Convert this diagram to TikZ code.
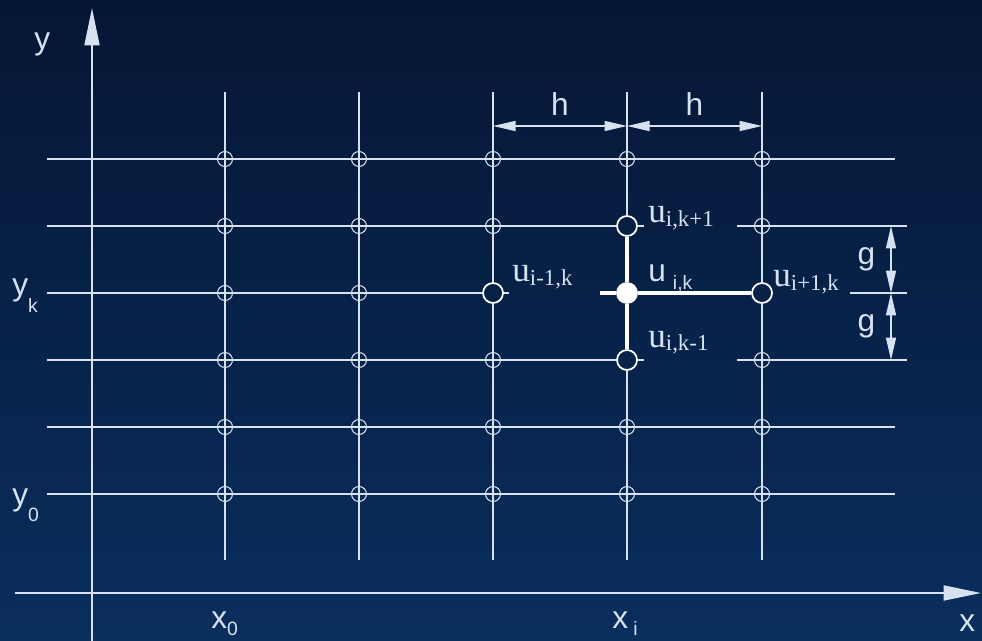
\documentclass[tikz,border=0pt]{standalone}
\usepackage{fontspec}
\setmainfont{Liberation Sans}
\newfontfamily\timesfam{Liberation Serif}
\usetikzlibrary{arrows.meta, positioning, calc}
\definecolor{bgtop}{RGB}{5,22,52}
\definecolor{bgbot}{RGB}{10,46,94}
\definecolor{gridline}{RGB}{214,226,240}

% grid value u with its index
\newcommand{\uidx}[1]{{\timesfam\fontsize{20}{20}\selectfont u}\raisebox{-2pt}{\timesfam\fontsize{13}{13}\selectfont #1}}

\begin{document}
\begin{tikzpicture}[
    x=0.02cm, y=-0.02cm,
    gline/.style={draw=gridline, line width=0.8pt},
    stencil/.style={draw=white, line width=2.8pt},
    axis/.style={draw=gridline, line width=1.1pt, -{Triangle[length=0.75cm, width=0.3cm]}},
    dim/.style={draw=gridline, line width=0.8pt, {Triangle[length=0.45cm, width=0.2cm]}-{Triangle[length=0.45cm, width=0.2cm]}},
    knot/.style={circle, draw=gridline, line width=0.6pt, minimum size=0.3cm, inner sep=0pt},
    bigknot/.style={circle, draw=white, line width=1pt, minimum size=0.4cm, inner sep=0pt},
    lab/.style={text=gridline, inner sep=0pt, font=\fontsize{18}{18}\selectfont},
]

% Background
\shade[top color=bgtop, bottom color=bgbot] (0,0) rectangle (982,641);
\useasboundingbox (0,0) rectangle (982,641);

% Grid line ends
\foreach \c/\x in {1/225, 2/359, 3/493, 4/627, 5/762} {
    \coordinate (t\c) at (\x,92);
    \coordinate (b\c) at (\x,560);
}
\foreach \r/\y/\e in {1/159/895, 2/226/907, 3/293/907, 4/360/907, 5/427/895, 6/494/895} {
    \coordinate (l\r) at (47,\y);
    \coordinate (r\r) at (\e,\y);
}

% Five-point stencil
\node[bigknot] (uN) at (t4 |- l2) {};
\node[bigknot] (uW) at (t3 |- l3) {};
\node[bigknot, fill=white] (uC) at (t4 |- l3) {};
\node[bigknot] (uE) at (t5 |- l3) {};
\node[bigknot] (uS) at (t4 |- l4) {};

% Grid knots
\foreach \c in {1,...,5} {
    \foreach \r in {1,...,6} {
        \pgfmathtruncatemacro\instencil{or(and(\c==4, and(\r>1, \r<5)), and(\r==3, \c>2))}
        \ifnum\instencil=0
            \node[knot] (k\c\r) at (t\c |- l\r) {};
        \fi
    }
}

% Grid lines
\foreach \c in {1,2} \draw[gline] (t\c) -- (b\c);
\draw[gline] (t3) -- (uW) (uW) -- (b3);
\draw[gline] (t4) -- (uN) (uS) -- (b4);
\draw[gline] (t5) -- (uE) (uE) -- (b5);
\foreach \r in {1,5,6} \draw[gline] (l\r) -- (r\r);
\coordinate (m2) at (737,226);
\coordinate (m3) at (850,293);
\coordinate (m4) at (737,360);
\draw[gline] (l2) -- (uN) (uN.east) -- ++(6,0) (m2) -- (r2);
\draw[gline] (l3) -- (uW) (uW.east) -- ++(5,0) (m3) -- (r3);
\draw[gline] (l4) -- (uS) (uS.east) -- ++(6,0) (m4) -- (r4);

% Stencil arms
\coordinate (s3) at (600,293);
\draw[stencil] (s3) -- (uC) -- (uE);
\draw[stencil] (uN) -- (uC) -- (uS);

% Step sizes
\coordinate (hy) at (0,126);
\coordinate (gx) at (891,0);
\draw[dim] (t3 |- hy) -- node[lab, above=0.2cm] (h1) {h} (t4 |- hy);
\draw[dim] (t4 |- hy) -- node[lab, above=0.2cm] (h2) {h} (t5 |- hy);
\draw[dim] (gx |- l2) -- node[lab, left=0.3cm] (g1) {g} (gx |- l3);
\draw[dim] (gx |- l3) -- node[lab, left=0.3cm] (g2) {g} (gx |- l4);

% Axes
\coordinate (yfoot) at (92,641);
\coordinate (ytip) at (92,8);
\coordinate (xfoot) at (15,593);
\coordinate (xtip) at (981,593);
\draw[axis] (yfoot) -- (ytip);
\draw[axis] (xfoot) -- (xtip);

% Axis labels
\node[lab, anchor=base west] (ylab) at (34,50) {y};
\node[lab, anchor=base west] (xlab) at (959,631) {x};
\node[lab, anchor=base west] (yk) at (12,296) {y\raisebox{-9.5pt}{\fontsize{11}{11}\selectfont k}};
\node[lab, anchor=base west] (y0) at (12,505) {y\raisebox{-9.5pt}{\fontsize{11}{11}\selectfont 0}};
\node[lab, anchor=base west] (x0) at (211,628) {x\raisebox{-4pt}{\fontsize{11}{11}\selectfont 0}};
\node[lab, anchor=base west] (xi) at (612,628) {x\hspace{3pt}\raisebox{-4pt}{\fontsize{11}{11}\selectfont i}};

% Stencil labels
\node[lab, anchor=base west] (uNlab) at (648,223) {\uidx{i,k+1}};
\node[lab, anchor=base west] (uSlab) at (648,347) {\uidx{i,k-1}};
\node[lab, anchor=base west] (uWlab) at (512,282) {\uidx{i-1,k}};
\node[lab, anchor=base west] (uElab) at (773,287) {\uidx{i+1,k}};
\node[lab, anchor=base west] (uClab) at (648,282) {u\hspace{4pt}\raisebox{-4.5pt}{\fontsize{11}{11}\selectfont i,k}};

\end{tikzpicture}
\end{document}
